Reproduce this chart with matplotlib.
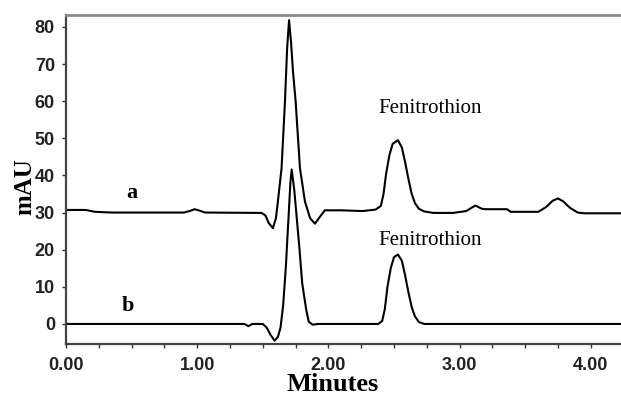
import matplotlib
matplotlib.use('Agg')
import matplotlib.pyplot as plt
from matplotlib.ticker import MultipleLocator, FormatStrFormatter

# trace a (offset by ~30 mAU)
a_time = [0.00, 0.15, 0.22, 0.35, 0.90, 0.95, 0.98, 1.02, 1.06, 1.49, 1.52, 1.545,
          1.577, 1.60, 1.615, 1.643, 1.669, 1.685, 1.70, 1.715, 1.73, 1.75, 1.783,
          1.821, 1.86, 1.897, 1.93, 1.973, 2.10, 2.26, 2.36, 2.40, 2.42, 2.44, 2.465,
          2.49, 2.53, 2.56, 2.585, 2.61, 2.635, 2.66, 2.69, 2.73, 2.80, 2.95, 3.05,
          3.12, 3.17, 3.20, 3.36, 3.39, 3.60, 3.66, 3.71, 3.75, 3.79, 3.84, 3.90,
          3.95, 4.23]
a_mau = [30.7, 30.7, 30.2, 30.0, 30.0, 30.5, 30.9, 30.5, 30.0, 29.9, 29.2, 27.2,
         25.8, 28.5, 33.0, 42.0, 60.0, 74.0, 81.8, 76.0, 68.0, 60.0, 42.0,
         33.0, 28.5, 27.0, 28.6, 30.6, 30.6, 30.4, 30.8, 31.8, 35.0, 40.5, 45.5,
         48.5, 49.5, 47.5, 43.5, 39.0, 35.0, 32.5, 31.0, 30.3, 29.9, 29.9, 30.4,
         31.9, 31.0, 30.9, 30.9, 30.2, 30.2, 31.5, 33.2, 33.8, 33.0, 31.3, 30.0,
         29.8, 29.8]

# trace b
b_time = [0.00, 1.36, 1.39, 1.42, 1.50, 1.53, 1.56, 1.59, 1.615, 1.635, 1.655,
          1.675, 1.695, 1.71, 1.72, 1.74, 1.76, 1.78, 1.80, 1.83, 1.85, 1.88,
          1.92, 2.38, 2.41, 2.43, 2.45, 2.475, 2.50, 2.53, 2.56, 2.585, 2.61,
          2.635, 2.66, 2.69, 2.73, 4.23]
b_mau = [0.0, 0.0, -0.6, 0.0, 0.0, -1.0, -3.0, -4.5, -3.5, -1.0, 5.0,
         15.0, 28.0, 38.0, 41.6, 36.0, 28.0, 20.0, 11.0, 4.0, 0.6, -0.2,
         0.0, 0.0, 0.8, 4.0, 10.0, 15.0, 18.0, 18.7, 17.0, 13.0, 8.5,
         4.5, 2.0, 0.5, 0.0, 0.0]

fig = plt.figure(figsize=(6.21, 3.98), dpi=100)
ax = fig.add_axes([66/621, 54/398, 555/621, 329/398])

ax.plot(a_time, a_mau, color='black', lw=1.5)
ax.plot(b_time, b_mau, color='black', lw=1.5)

ax.set_xlim(0, 4.23)
ax.set_ylim(-5.4, 83.2)

ax.xaxis.set_major_locator(MultipleLocator(1))
ax.xaxis.set_minor_locator(MultipleLocator(0.25))
ax.xaxis.set_major_formatter(FormatStrFormatter('%.2f'))
ax.yaxis.set_major_locator(MultipleLocator(10))
ax.tick_params(axis='both', which='both', length=3, width=1, color='#333333')
ax.tick_params(axis='x', pad=6)
ax.tick_params(axis='y', pad=5)
for lab in ax.get_xticklabels() + ax.get_yticklabels():
    lab.set_fontfamily('Liberation Sans')
    lab.set_fontweight('bold')
    lab.set_fontsize(13)
    lab.set_color('#222222')

ax.spines['right'].set_visible(False)
ax.spines['top'].set_color('#8c8c8c')
ax.spines['top'].set_linewidth(2)
ax.spines['left'].set_color('#444444')
ax.spines['left'].set_linewidth(1.6)
ax.spines['bottom'].set_color('#444444')
ax.spines['bottom'].set_linewidth(1.6)

ax.set_xlabel('Minutes', fontfamily='Liberation Serif', fontweight='bold', fontsize=19)
ax.xaxis.set_label_coords(0.481, -0.088)
ax.set_ylabel('mAU', fontfamily='Liberation Serif', fontweight='bold', fontsize=18, va='center')
ax.yaxis.set_label_coords(-0.074, 0.48)

ax.text(0.50, 33.9, 'a', fontfamily='Liberation Serif', fontweight='bold', fontsize=16,
        ha='center', va='baseline')
ax.text(0.47, 3.6, 'b', fontfamily='Liberation Serif', fontweight='bold', fontsize=16,
        ha='center', va='baseline')
ax.text(2.377, 56.7, 'Fenitrothion', fontfamily='Liberation Serif', fontsize=15,
        ha='left', va='baseline')
ax.text(2.377, 21.3, 'Fenitrothion', fontfamily='Liberation Serif', fontsize=15,
        ha='left', va='baseline')

fig.savefig('out.png', dpi=100)
